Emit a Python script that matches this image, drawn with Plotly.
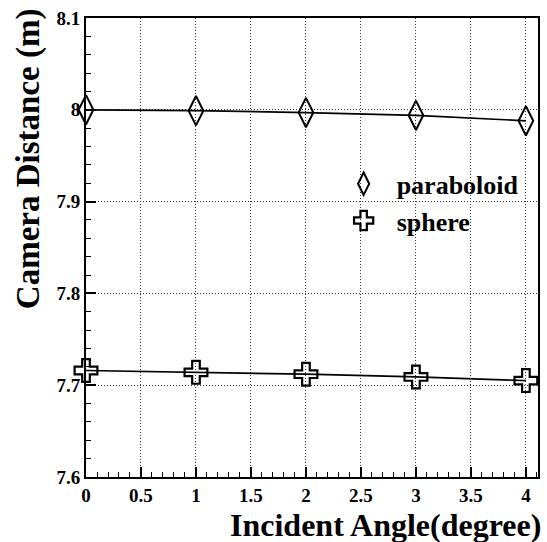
import plotly.graph_objects as go

# Incident angle (degree) and reconstructed camera distance (m)
angles = [0, 1, 2, 3, 4]
paraboloid = [8.000, 7.999, 7.997, 7.994, 7.988]
sphere = [7.716, 7.714, 7.712, 7.709, 7.705]

x_ticks = [0, 0.5, 1, 1.5, 2, 2.5, 3, 3.5, 4]
x_tick_text = ["0", "0.5", "1", "1.5", "2", "2.5", "3", "3.5", "4"]
y_ticks = [7.6, 7.7, 7.8, 7.9, 8.0, 8.1]
y_tick_text = ["7.6", "7.7", "7.8", "7.9", "8", "8.1"]

FONT = "'Liberation Serif', 'Times New Roman', serif"
NBSP = "\u00a0"

fig = go.Figure()

for i, (name, ys, sym, size, lw) in enumerate([
    ("paraboloid", paraboloid, "diamond-tall-open", 21, 2),
    ("sphere", sphere, "cross-open", 19, 2.2),
]):
    fig.add_trace(go.Scatter(
        x=angles, y=ys, mode="lines", showlegend=False,
        line=dict(color="black", width=1.7), cliponaxis=False,
    ))
    fig.add_trace(go.Scatter(
        x=angles, y=ys, mode="markers", name=NBSP * 2 + "<b>" + name + "</b>",
        legendgroup="g%d" % i, cliponaxis=False,
        marker=dict(symbol=sym, size=size, color="black",
                    line=dict(color="black", width=lw)),
    ))

axis_common = dict(
    showline=True, linecolor="black", linewidth=2, mirror=True,
    ticks="inside", tickcolor="black", tickwidth=1.5, ticklen=10,
    showgrid=True, gridcolor="#333333", gridwidth=1, griddash="1px,2px",
    zeroline=False,
    tickfont=dict(family=FONT, size=19, color="black", weight="bold"),
)

fig.update_xaxes(
    range=[0, 4.11], tickvals=x_ticks,
    ticktext=["<b>%s</b>" % t for t in x_tick_text],
    minor=dict(dtick=0.1, ticks="inside", ticklen=5, tickcolor="black",
               tickwidth=1.2, showgrid=False),
    **axis_common,
)
fig.update_yaxes(
    range=[7.6, 8.1], tickvals=y_ticks,
    ticktext=["<b>%s</b>" % t for t in y_tick_text],
    minor=dict(dtick=0.02, ticks="inside", ticklen=5, tickcolor="black",
               tickwidth=1.2, showgrid=False),
    **axis_common,
)

fig.add_annotation(
    text="<b>Incident Angle(degree)</b>", xref="paper", yref="paper",
    x=1.012, y=-0.061, xanchor="right", yanchor="top", showarrow=False,
    font=dict(family=FONT, size=32, color="black"),
)
fig.add_annotation(
    text="<b>Camera Distance (m)</b>", xref="paper", yref="paper",
    x=-0.1256, y=0.693, xanchor="center", yanchor="middle", textangle=-90,
    showarrow=False,
    font=dict(family=FONT, size=33, color="black"),
)

fig.update_layout(
    width=547, height=542,
    margin=dict(l=86, r=7, t=18, b=65),
    paper_bgcolor="white", plot_bgcolor="white",
    legend=dict(
        x=0.57, y=0.69, xanchor="left", yanchor="top",
        bgcolor="rgba(0,0,0,0)", itemsizing="trace", traceorder="grouped",
        font=dict(family=FONT, size=26, color="black"),
        tracegroupgap=0,
    ),
)

fig.write_html("out.html")
